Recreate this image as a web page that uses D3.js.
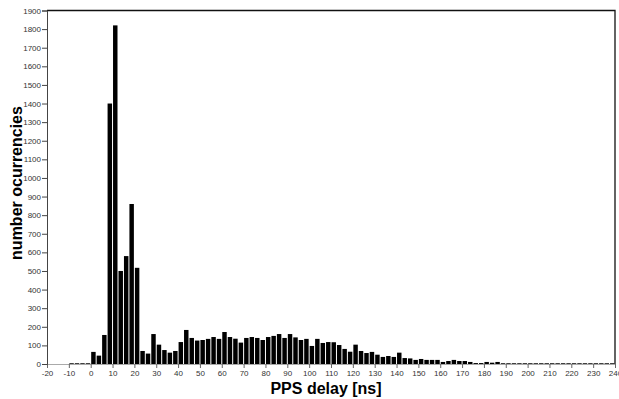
<!DOCTYPE html>
<html lang="en">
	<head>
		<meta charset="utf-8">
		<title>PPS delay histogram</title>
		<script src="https://d3js.org/d3.v7.min.js"></script>
		<style type="text/css">
body { margin: 0; background: #fff; }
.tick text { font-family: "Liberation Sans", Arial, sans-serif; font-size: 8px; fill: #333; }
.title { font-family: "Liberation Sans", Arial, sans-serif; font-weight: bold; fill: #000; }
		</style>
	</head>
	<body>
<div id="chart"></div>
		<script type="text/javascript">
// bin starts (ns), 2.5 ns wide
var binWidth = 2.5;
var binStarts = d3.range(-20, 240, binWidth);
// counts per bin
var counts = [
  0, 0, 0, 0,
  4, 4, 4, 4,
  65, 45, 156, 1400, 1820, 500, 580, 860, 517, 70, 56, 161,
  104, 75, 61, 70, 118, 183, 140, 126,
  129, 135, 145, 135, 172, 145, 136, 115,
  140, 145, 140, 129, 145, 151, 161, 140,
  161, 143, 129, 135, 97, 135, 113, 118,
  117, 102, 81, 66, 104, 70, 59, 65,
  50, 38, 43, 38, 61, 32, 30, 22,
  27, 22, 22, 22, 11, 16, 22, 16,
  16, 11, 5, 5, 11, 7, 11, 4,
  4, 4, 4, 4, 4, 4, 4, 4, 4, 4,
  4, 4, 4, 4, 4, 4, 4, 4, 4, 4
];
var xTicks = d3.range(-20, 241, 10);
var yTicks = d3.range(0, 1901, 100);

var data = binStarts.map(function (s, i) { return {x0: s, n: counts[i]}; });

//Width and height
var w = 619;
var h = 399;
var plotLeft = 47, plotRight = 615, plotTop = 10.5, plotBottom = 364;

var xScale = d3.scaleLinear()
	.domain([-20, 240])
	.range([plotLeft, plotRight]);

var yScale = d3.scaleLinear()
	.domain([0, 1900])
	.range([plotBottom, plotTop]);

var svg = d3.select("div#chart")
	.append("svg")
	.attr("width", w)
	.attr("height", h);

// bars
svg.selectAll("rect.bar")
	.data(data)
	.enter()
	.append("rect")
	.attr("class", "bar")
	.attr("x", d => xScale(d.x0) + 0.5)
	.attr("width", d => xScale(d.x0 + binWidth) - xScale(d.x0) - 1)
	.attr("y", d => yScale(d.n))
	.attr("height", d => plotBottom - yScale(d.n))
	.attr("fill", "#000");

// frame top and right
svg.append("path")
	.attr("d", "M" + plotLeft + "," + plotTop + "H" + plotRight + "V" + plotBottom)
	.attr("fill", "none")
	.attr("stroke", "#111")
	.attr("stroke-width", 1.3);

//X axis
var xAxis = d3.axisBottom(xScale)
	.tickValues(xTicks)
	.tickFormat(d => String(d))
	.tickSize(4)
	.tickPadding(2);
var gx = svg.append("g")
	.attr("transform", "translate(0," + plotBottom + ")")
	.call(xAxis);
gx.select(".domain").attr("stroke", "#aaa");
gx.selectAll(".tick line").attr("stroke", "#666");

//Y axis
var yAxis = d3.axisLeft(yScale)
	.tickValues(yTicks)
	.tickFormat(d => String(d))
	.tickSize(5)
	.tickPadding(1);
var gy = svg.append("g")
	.attr("transform", "translate(" + plotLeft + ",0)")
	.call(yAxis);
gy.select(".domain").attr("stroke", "#444");
gy.selectAll(".tick line").attr("stroke", "#444");

// axis titles
svg.append("text")
	.attr("class", "title")
	.attr("font-size", "16px")
	.attr("text-anchor", "middle")
	.attr("x", 326)
	.attr("y", 394)
	.text("PPS delay [ns]");

svg.append("text")
	.attr("class", "title")
	.attr("font-size", "16px")
	.attr("text-anchor", "middle")
	.attr("transform", "translate(22,183) rotate(-90)")
	.text("number ocurrencies");
		</script>
	</body>
</html>
